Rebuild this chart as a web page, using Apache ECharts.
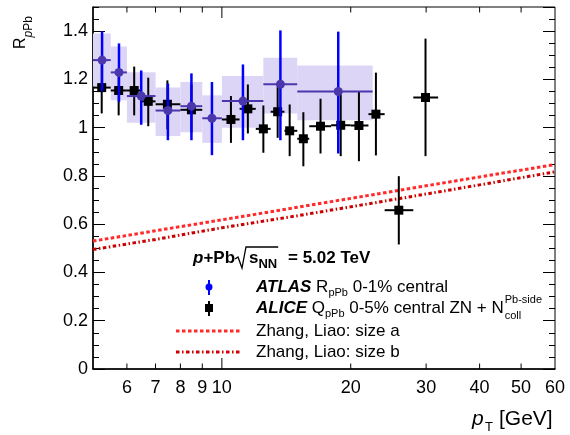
<!DOCTYPE html>
<html><head><meta charset="utf-8">
<script src="https://cdn.jsdelivr.net/npm/echarts@6/dist/echarts.min.js"></script>
<style>html,body{margin:0;padding:0;background:#fff}#c{width:570px;height:435px}</style>
</head><body><div id="c"></div>
<script>
// ---------- DATA ----------
const atlasPt      = [5.25, 5.75, 6.48, 7.48, 8.49, 9.48, 11.2, 13.7, 18.7];
const atlasBinLo   = [5, 5.5, 6, 7, 8, 9, 10, 12.5, 15];
const atlasBinHi   = [5.5, 6, 7, 8, 9, 10, 12.5, 15, 22.5];
const atlasR       = [1.28, 1.229, 1.131, 1.071, 1.089, 1.039, 1.11, 1.18, 1.15];
const atlasStatLo  = [1.151, 1.106, 1.012, 0.948, 0.948, 0.886, 0.948, 0.948, 0.893];
const atlasStatHi  = [1.40, 1.349, 1.237, 1.183, 1.225, 1.189, 1.262, 1.403, 1.398];
const atlasSysLo   = [1.17, 1.114, 1.02, 0.965, 0.981, 0.937, 1.0, 1.059, 1.031];
const atlasSysHi   = [1.39, 1.336, 1.23, 1.166, 1.189, 1.134, 1.214, 1.29, 1.258];

const alicePt      = [5.24, 5.74, 6.24, 6.73, 7.46, 8.49, 10.5, 11.5, 12.5, 13.5, 14.4, 15.5, 17.0, 18.95, 20.9, 22.9, 25.9, 29.9];
const aliceBinLo   = [5, 5.5, 6, 6.5, 7, 8, 10, 11, 12, 13, 14, 15, 16, 18, 20, 22, 24, 28];
const aliceBinHi   = [5.5, 6, 6.5, 7, 8, 9, 11, 12, 13, 14, 15, 16, 18, 20, 22, 24, 28, 32];
const aliceQ       = [1.166, 1.154, 1.154, 1.109, 1.097, 1.074, 1.034, 1.078, 0.995, 1.066, 0.987, 0.954, 1.006, 1.01, 1.009, 1.056, 0.658, 1.125];
const aliceErrLo   = [1.059, 1.051, 1.051, 1.006, 0.993, 0.979, 0.937, 0.976, 0.896, 0.958, 0.882, 0.84, 0.893, 0.882, 0.861, 0.885, 0.516, 0.882];
const aliceErrHi   = [1.269, 1.237, 1.253, 1.207, 1.196, 1.179, 1.131, 1.179, 1.092, 1.17, 1.096, 1.064, 1.12, 1.138, 1.151, 1.228, 0.799, 1.369];

const zhangPt      = [5, 7, 10, 15, 20, 30, 40, 60];
const zhangSizeA   = [0.53, 0.573, 0.618, 0.670, 0.707, 0.759, 0.796, 0.847];
const zhangSizeB   = [0.495, 0.537, 0.585, 0.635, 0.672, 0.725, 0.763, 0.817];

const xTickValues  = [6, 7, 8, 9, 10, 20, 30, 40, 50];
const xTickLabels  = [6, 7, 8, 9, 10, 20, 30, 40, 50, 60];
const yMin = 0, yMax = 1.5;

// ---------- STYLE ----------
const FF = "'Liberation Sans', Arial, Helvetica, sans-serif";
const PURPLE = '#4b37ad', BLUE = '#0000ff', BOX = '#dcd5f5';
const RED_A = '#ff2a2a', RED_B = '#cc0000';

const chart = echarts.init(document.getElementById('c'), null, {renderer: 'canvas'});
const mctx = document.createElement('canvas').getContext('2d');
function tw(t, f) { mctx.font = f; return mctx.measureText(t).width; }
function txt(t, x, y, font, fill, align) {
  return {type: 'text', x: x, y: y, silent: true, style: {text: t, font: font, fill: fill || '#000',
    align: align || 'left', verticalAlign: 'middle', textAlign: align || 'left', textVerticalAlign: 'middle'}};
}
function runs(x, y, items) {
  const out = []; let cx = x;
  items.forEach(it => {
    out.push(txt(it.t, cx, y + (it.dy || 0), it.f, it.c));
    cx += tw(it.t, it.f);
  });
  return {els: out, end: cx};
}
const n17 = '17px ' + FF, b17 = 'bold 17px ' + FF, bi17 = 'italic bold 17px ' + FF;
const n11 = '11px ' + FF, b13 = 'bold 13px ' + FF;

const graphics = [];
// header
(function () {
  graphics.push(...runs(193, 258, [{t: 'p', f: bi17}, {t: '+Pb', f: b17}]).els);
  const r3 = runs(249, 258, [{t: 's', f: b17}, {t: 'NN', f: b13, dy: 6}]);
  graphics.push(...r3.els);
  graphics.push({type: 'polyline', silent: true,
    shape: {points: [[235, 259], [238, 257], [242, 268], [246, 247], [r3.end + 1, 247]]},
    style: {stroke: '#000', lineWidth: 1.3, fill: null}});
  graphics.push(txt('= 5.02 TeV', 288, 258, b17));
})();
// ATLAS entry
graphics.push({type: 'line', silent: true, shape: {x1: 209, y1: 280, x2: 209, y2: 295}, style: {stroke: BLUE, lineWidth: 2}});
graphics.push({type: 'circle', silent: true, shape: {cx: 209, cy: 287, r: 3.5}, style: {fill: BLUE}});
graphics.push(...runs(256, 287, [{t: 'ATLAS', f: bi17}, {t: ' R', f: n17}, {t: 'pPb', f: n11, dy: 6}, {t: ' 0-1% central', f: n17}]).els);
// ALICE entry
graphics.push({type: 'line', silent: true, shape: {x1: 209, y1: 301, x2: 209, y2: 316}, style: {stroke: '#000', lineWidth: 2}});
graphics.push({type: 'rect', silent: true, shape: {x: 205, y: 304, width: 8, height: 8}, style: {fill: '#000'}});
(function () {
  const r = runs(256, 308, [{t: 'ALICE', f: bi17}, {t: ' Q', f: n17}, {t: 'pPb', f: n11, dy: 6}, {t: ' 0-5% central ZN + N', f: n17}]);
  graphics.push(...r.els);
  graphics.push(txt('coll', r.end + 1, 316, n11));
  graphics.push(txt('Pb-side', r.end + 1, 300, n11));
})();
// Zhang entries
graphics.push({type: 'line', silent: true, shape: {x1: 176, y1: 331, x2: 242, y2: 331}, style: {stroke: RED_A, lineWidth: 3, lineDash: [3.5, 2.5]}});
graphics.push(txt('Zhang, Liao: size a', 256, 331, n17));
graphics.push({type: 'line', silent: true, shape: {x1: 176, y1: 352, x2: 242, y2: 352}, style: {stroke: RED_B, lineWidth: 3, lineDash: [3.5, 2.5, 1.5, 2.5]}});
graphics.push(txt('Zhang, Liao: size b', 256, 352, n17));
// y title (rotated)
graphics.push({type: 'group', x: 21, y: 49, rotation: Math.PI / 2, silent: true, children: (function () {
  const fR = '16px ' + FF, fp = 'italic 12px ' + FF, fs = '12px ' + FF;
  const wR = tw('R', fR), wp = tw('p', fp);
  return [txt('R', 0, 0, fR), txt('p', wR, 8, fp), txt('Pb', wR + wp, 8, fs)];
})()});
// x title
graphics.push(txt('p', 472, 419, 'italic 21px ' + FF));
graphics.push(txt('T', 485, 427, '13px ' + FF));
graphics.push(txt('[GeV]', 499, 419, '21px ' + FF));

// ---------- SERIES ----------
const atlasBoxData = atlasBinLo.map((l, i) => [l, atlasBinHi[i], atlasSysLo[i], atlasSysHi[i]]);
const atlasErrData = atlasPt.map((p, i) => [p, atlasR[i], atlasBinLo[i], atlasBinHi[i], atlasStatLo[i], atlasStatHi[i]]);
const aliceErrData = alicePt.map((p, i) => [p, aliceQ[i], aliceBinLo[i], aliceBinHi[i], aliceErrLo[i], aliceErrHi[i]]);

function errRender(vColor, hColor, vW, hW) {
  return function (params, api) {
    const y = api.value(1);
    const a = api.coord([api.value(2), y]), b = api.coord([api.value(3), y]);
    const c1 = api.coord([api.value(0), api.value(4)]), c2 = api.coord([api.value(0), api.value(5)]);
    return {type: 'group', children: [
      {type: 'line', shape: {x1: c1[0], y1: c1[1], x2: c2[0], y2: c2[1]}, style: {stroke: vColor, lineWidth: vW}},
      {type: 'line', shape: {x1: a[0], y1: a[1], x2: b[0], y2: b[1]}, style: {stroke: hColor, lineWidth: hW}}
    ]};
  };
}

const series = [
  {type: 'custom', name: 'atlasSys', z: 1, clip: false, silent: true,
   renderItem: function (params, api) {
     const p1 = api.coord([api.value(0), api.value(3)]), p2 = api.coord([api.value(1), api.value(2)]);
     return {type: 'rect', shape: {x: p1[0], y: p1[1], width: p2[0] - p1[0], height: p2[1] - p1[1]}, style: {fill: BOX}};
   },
   encode: {x: [0, 1], y: [2, 3]}, data: atlasBoxData},
  {type: 'line', name: 'sizeA', z: 2, showSymbol: false, symbol: 'none', silent: true,
   data: zhangPt.map((p, i) => [p, zhangSizeA[i]]), lineStyle: {color: RED_A, width: 3, type: [3.5, 2.5]}},
  {type: 'line', name: 'sizeB', z: 2, showSymbol: false, symbol: 'none', silent: true,
   data: zhangPt.map((p, i) => [p, zhangSizeB[i]]), lineStyle: {color: RED_B, width: 3, type: [3.5, 2.5, 1.5, 2.5]}},
  {type: 'custom', name: 'aliceErr', z: 3, clip: false, silent: true,
   renderItem: errRender('#000', '#000', 2, 2), encode: {x: [0, 2, 3], y: [1, 4, 5]}, data: aliceErrData},
  {type: 'scatter', name: 'alice', z: 4, symbol: 'rect', symbolSize: 9, silent: true,
   itemStyle: {color: '#000', opacity: 1, borderWidth: 0}, data: alicePt.map((p, i) => [p, aliceQ[i]])},
  {type: 'custom', name: 'atlasErr', z: 5, clip: false, silent: true,
   renderItem: errRender(BLUE, PURPLE, 2.5, 2), encode: {x: [0, 2, 3], y: [1, 4, 5]}, data: atlasErrData},
  {type: 'scatter', name: 'atlas', z: 6, symbol: 'circle', symbolSize: 9, silent: true,
   itemStyle: {color: PURPLE, opacity: 1, borderWidth: 0}, data: atlasPt.map((p, i) => [p, atlasR[i]])},
  // x ticks (bottom and top)
  {type: 'custom', name: 'xticks', z: 10, clip: false, silent: true,
   renderItem: function (params, api) {
     const v = api.value(0);
     const b = api.coord([v, yMin]), t = api.coord([v, yMax]);
     const len = v === 10 ? 11 : 5.5;
     return {type: 'group', children: [
       {type: 'line', shape: {x1: b[0], y1: b[1], x2: b[0], y2: b[1] - len}, style: {stroke: '#000', lineWidth: 1}},
       {type: 'line', shape: {x1: t[0], y1: t[1], x2: t[0], y2: t[1] + len}, style: {stroke: '#000', lineWidth: 1}}
     ]};
   },
   data: xTickValues.map(v => [v, yMin])},
  {type: 'custom', name: 'xlabels', z: 10, clip: false, silent: true,
   renderItem: function (params, api) {
     const v = api.value(0);
     const b = api.coord([v, yMin]);
     return {type: 'text', x: b[0], y: b[1] + 19, style: {text: String(v), font: '18px ' + FF, fill: '#000',
       align: 'center', verticalAlign: 'middle', textAlign: 'center', textVerticalAlign: 'middle'}};
   },
   data: xTickLabels.map(v => [v, yMin])}
];

function yAx(pos, interval, len, labels, line) {
  return {type: 'value', min: yMin, max: yMax, interval: interval, position: pos, offset: 0,
    axisLine: {show: line, onZero: false, lineStyle: {color: '#000', width: 1.5}},
    axisTick: {show: true, inside: true, length: len, lineStyle: {color: '#000', width: 1}},
    axisLabel: {show: labels, showMaxLabel: false, color: '#000', fontSize: 18, fontFamily: FF, margin: 5},
    splitLine: {show: false}};
}

chart.setOption({
  animation: false,
  backgroundColor: '#fff',
  grid: {left: 93, right: 15, top: 7, bottom: 66, containLabel: false, outerBoundsMode: 'none',
         show: true, borderColor: '#000', borderWidth: 1, backgroundColor: 'transparent'},
  xAxis: {type: 'log', logBase: 10, min: 5, max: 60,
    axisLine: {show: true, onZero: false, lineStyle: {color: '#000', width: 1.5}},
    axisTick: {show: false}, axisLabel: {show: false}, splitLine: {show: false}, minorTick: {show: false}},
  yAxis: [yAx('left', 0.2, 12, true, true), yAx('left', 0.05, 6, false, false),
          yAx('right', 0.2, 12, false, false), yAx('right', 0.05, 6, false, false)],
  series: series,
  graphic: graphics
});
</script>
</body></html>
